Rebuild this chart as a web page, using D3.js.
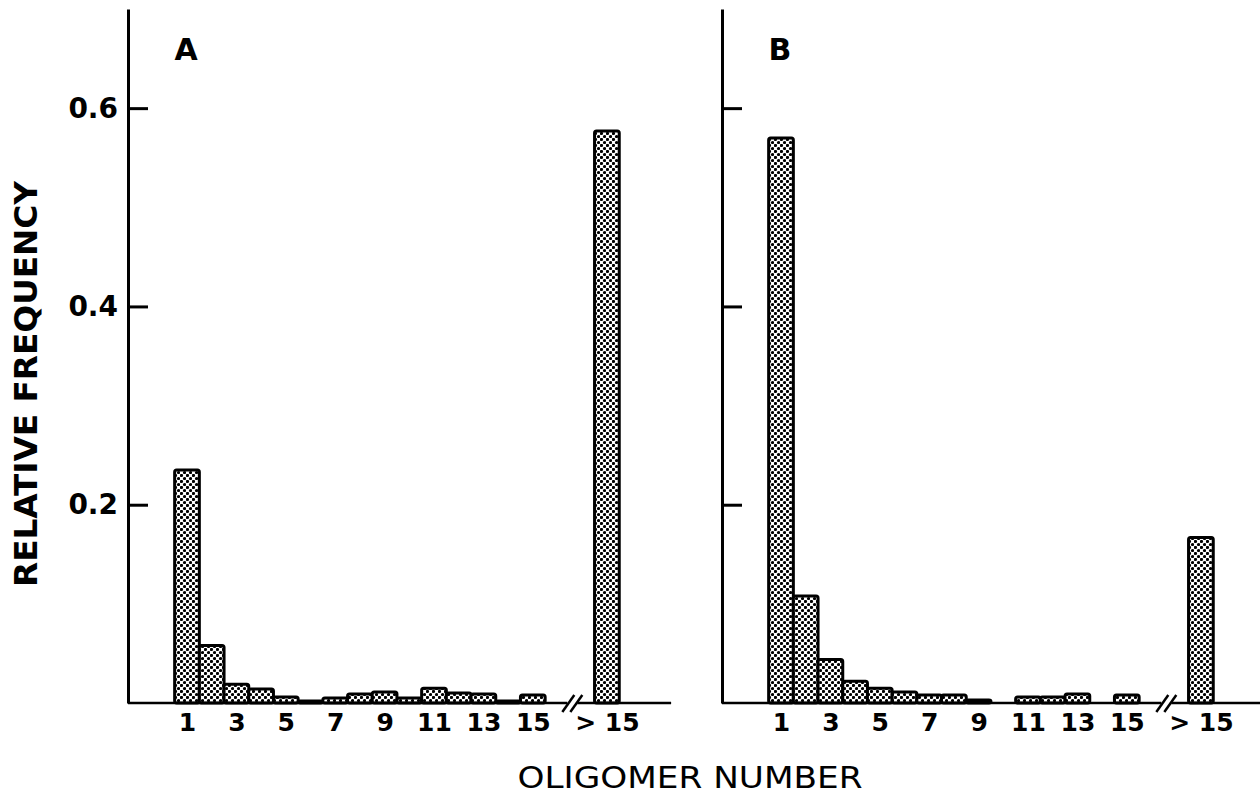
<!DOCTYPE html>
<html>
<head>
<meta charset="utf-8">
<script src="https://cdn.jsdelivr.net/npm/d3@7"></script>
<style>
  body { margin:0; background:#fff; }
  svg text { font-family: "DejaVu Sans", sans-serif; font-weight: bold; fill:#000; }
</style>
</head>
<body>
<div id="chart"></div>
<script>
const oligomers = [1,2,3,4,5,6,7,8,9,10,11,12,13,14,15];
const overPos = 18;               // where the ">15" bar sits on the oligomer scale
const breakAt = 16.6;             // axis break between 15 and >15
const valuesA = [0.235,0.058,0.019,0.014,0.006,0.002,0.005,0.009,0.011,0.005,0.015,0.010,0.009,0.002,0.008];
const overA = 0.577;
const valuesB = [0.570,0.108,0.044,0.022,0.015,0.011,0.008,0.008,0.003,0,0.006,0.006,0.009,0,0.008];
const overB = 0.167;
const xTicks = [1,3,5,7,9,11,13,15,18];
const yTicks = [0.2,0.4,0.6];

const W = 1260, H = 796;
const svg = d3.select('#chart').append('svg').attr('width', W).attr('height', H);

const defs = svg.append('defs');
const pat = defs.append('pattern').attr('id','dots').attr('patternUnits','userSpaceOnUse').attr('width',6).attr('height',6);
pat.append('rect').attr('width',6).attr('height',6).attr('fill','#fff');
pat.append('circle').attr('cx',1.5).attr('cy',1.5).attr('r',1.6).attr('fill','#000');
pat.append('circle').attr('cx',4.5).attr('cy',4.5).attr('r',1.6).attr('fill','#000');

const y = d3.scaleLinear().domain([0, 0.7]).range([703, 9]);

function panel(ox, letter, vals, over, showLabels, axisEnd){
  const x = d3.scaleLinear().domain([1,15]).range([ox+59, ox+59+14*24.7]);
  const bw = x(2) - x(1);
  const g = svg.append('g');
  const data = oligomers.map((n,i)=>({n, v: vals[i]})).concat([{n: overPos, v: over}]);

  g.append('g').selectAll('rect').data(data.filter(d=>d.v>0)).enter().append('rect')
    .attr('x', d=>x(d.n)-bw/2).attr('y', d=>y(d.v))
    .attr('width', bw).attr('height', d=>y(0)-y(d.v))
    .attr('rx',2).attr('fill','url(#dots)').attr('stroke','#000').attr('stroke-width',3);

  // baseline with break
  const b0 = y(0);
  const bl = x(breakAt);
  g.append('line').attr('x1',ox).attr('x2',bl-5).attr('y1',b0).attr('y2',b0).attr('stroke','#000').attr('stroke-width',2.5);
  g.append('line').attr('x1',bl+5).attr('x2',axisEnd === null ? W : x(axisEnd)).attr('y1',b0).attr('y2',b0).attr('stroke','#000').attr('stroke-width',2.5);
  [-4,4].forEach(dx=>{
    g.append('line').attr('x1',bl+dx-6).attr('y1',b0+9).attr('x2',bl+dx+6).attr('y2',b0-8).attr('stroke','#000').attr('stroke-width',2.5);
  });

  // y axis
  const ya = g.append('g').attr('transform',`translate(${ox},0)`)
    .call(d3.axisLeft(y).tickValues(yTicks).tickSize(-20).tickSizeOuter(0).tickPadding(10)
      .tickFormat(showLabels ? d3.format('.1f') : ''));
  ya.select('.domain').attr('stroke-width',3);
  ya.selectAll('.tick line').attr('stroke-width',3);
  ya.selectAll('.tick text').style('font-size','28px').style('font-family','"DejaVu Sans", sans-serif').style('font-weight','bold');

  // x tick labels
  const xa = g.append('g').attr('transform',`translate(0,${b0})`)
    .call(d3.axisBottom(x).tickValues(xTicks).tickSize(0).tickPadding(10)
      .tickFormat(d=> d===overPos ? '> 15' : String(d)));
  xa.select('.domain').remove();
  xa.selectAll('.tick text').style('font-size','25px').style('font-family','"DejaVu Sans", sans-serif').style('font-weight','bold');

  g.append('text').attr('x', ox+58).attr('y', 60).attr('text-anchor','middle').style('font-size','30px').text(letter);
}

panel(128, 'A', valuesA, overA, true, 20.6);
panel(722, 'B', valuesB, overB, false, null);

svg.append('text').attr('transform','translate(37,384) rotate(-90)').attr('text-anchor','middle')
  .attr('textLength',406).attr('lengthAdjust','spacingAndGlyphs').style('font-size','32px').text('RELATIVE FREQUENCY');
svg.append('text').attr('x',690).attr('y',788).attr('text-anchor','middle')
  .attr('textLength',345).attr('lengthAdjust','spacingAndGlyphs').style('font-size','30px').style('font-weight','normal').text('OLIGOMER NUMBER');
</script>
</body>
</html>
